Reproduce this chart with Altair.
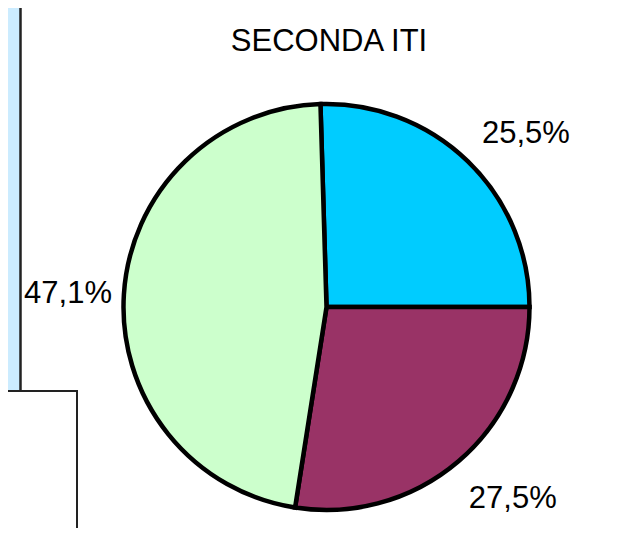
import math
import altair as alt
import pandas as pd

# ---- data ----
labels = ["25,5%", "27,5%", "47,1%"]
values = [25.5, 27.5, 47.1]
slice_order = [1, 2, 3]
colors = ["#00CCFF", "#993366", "#CCFFCC"]
title_text = ["SECONDA ITI"]

df = pd.DataFrame({"label": labels, "value": values, "order": slice_order})

# blue slice ends exactly at 3 o'clock
total = sum(values)
start = math.pi / 2 - values[0] / total * 2 * math.pi
theta_scale = alt.Scale(range=[start, start + 2 * math.pi])

CX, CY = 318.5, 299
R = 203
FONT = "Liberation Sans"

frame = pd.DataFrame({"k": [0]})

panel = alt.Chart(frame).mark_rect(fill="white", stroke="#222222", strokeWidth=2.5).encode(
    x=alt.value(12.5), x2=alt.value(700), y=alt.value(-3), y2=alt.value(700)
)
box = alt.Chart(frame).mark_rect(fill="white", stroke="#222222", strokeWidth=2).encode(
    x=alt.value(-10), x2=alt.value(69), y=alt.value(383), y2=alt.value(700)
)

pie = alt.Chart(df).mark_arc(outerRadius=R, stroke="black", strokeWidth=4.5).encode(
    theta=alt.Theta("value:Q", stack=True, scale=theta_scale),
    color=alt.Color("label:N", scale=alt.Scale(domain=labels, range=colors), legend=None),
    order=alt.Order("order:Q"),
    x=alt.value(CX),
    y=alt.value(CY),
)

offsets = {"25,5%": (17, 24), "27,5%": (16, 2), "47,1%": (3, 12.5)}
texts = []
for lab, (dx, dy) in offsets.items():
    t = alt.Chart(df).mark_text(
        radius=262, fontSize=31, font=FONT, baseline="alphabetic", align="center",
        dx=dx, dy=dy, color="black"
    ).encode(
        theta=alt.Theta("value:Q", stack=True, scale=theta_scale),
        order=alt.Order("order:Q"),
        text=alt.condition(alt.datum.label == lab, "label:N", alt.value("")),
        x=alt.value(CX),
        y=alt.value(CY),
    )
    texts.append(t)

title = alt.Chart(pd.DataFrame({"t": title_text})).mark_text(
    fontSize=31, font=FONT, baseline="alphabetic", align="center", color="black"
).encode(text="t:N", x=alt.value(321), y=alt.value(43))

chart = alt.layer(panel, box, pie, *texts, title).properties(
    width=616, height=520, padding=0, autosize="none", background="#CCECFF"
).configure_view(stroke=None)

chart.save("out.html", embed_options={"renderer": "svg", "actions": False})
